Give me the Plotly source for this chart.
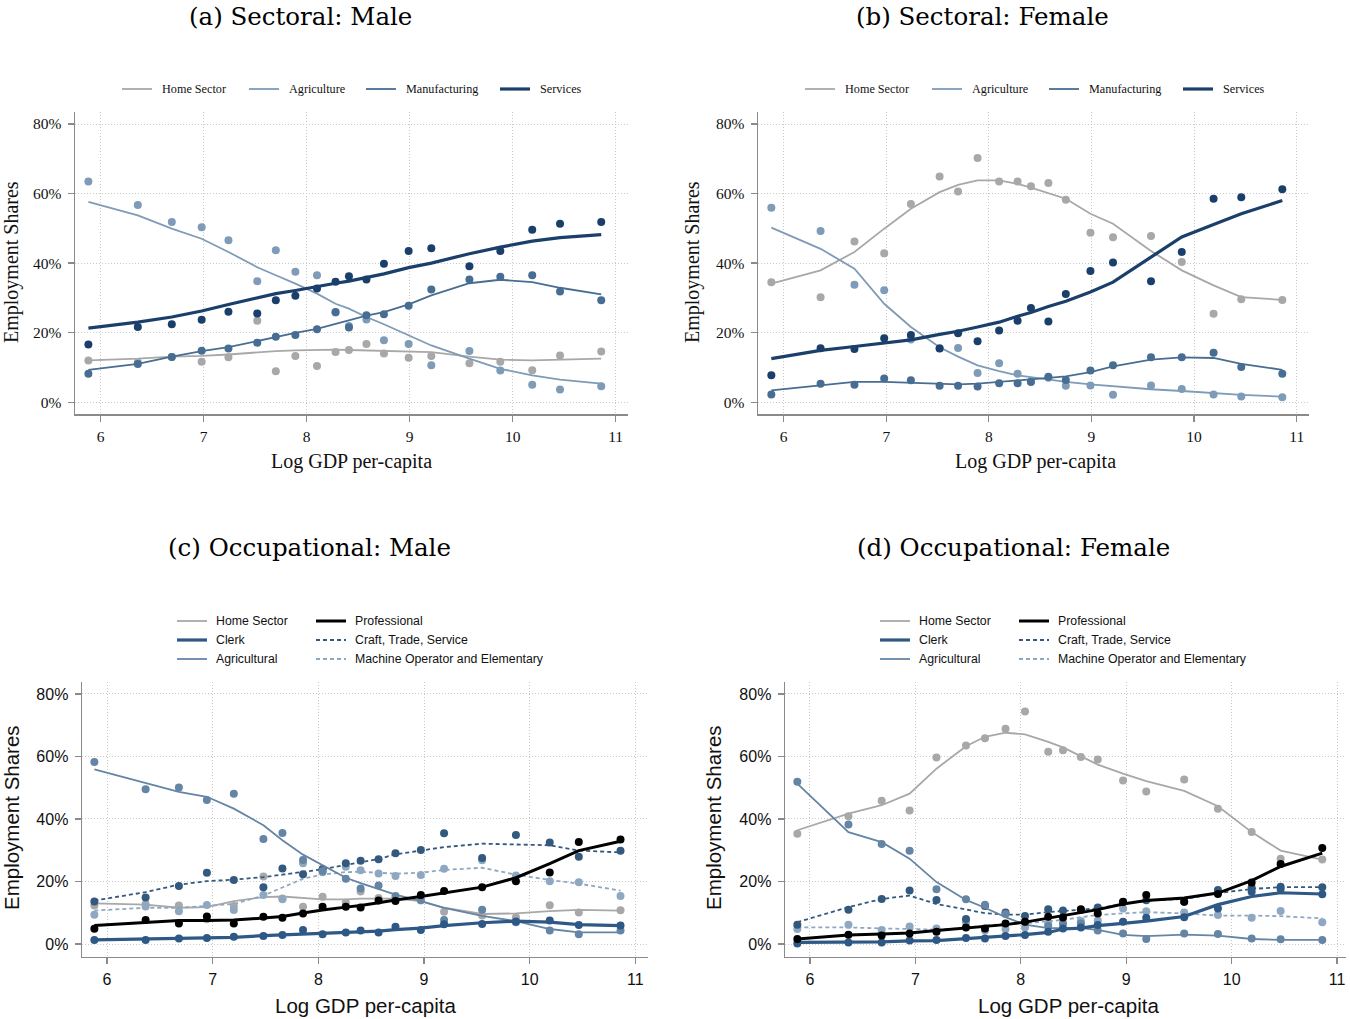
import plotly.graph_objects as go

W, H = 1350, 1019

# ---------------- data ----------------
GDP_SECT = [5.88, 6.36, 6.69, 6.98, 7.24, 7.52, 7.70, 7.89, 8.10, 8.28, 8.41, 8.58, 8.75, 8.99, 9.21, 9.58, 9.88, 10.19, 10.46, 10.86]
GDP_OCC = [5.88, 6.365, 6.68, 6.945, 7.20, 7.48, 7.66, 7.855, 8.04, 8.26, 8.40, 8.57, 8.73, 8.97, 9.19, 9.55, 9.87, 10.19, 10.465, 10.86]

X_TICKS = [6, 7, 8, 9, 10, 11]
X_TICK_LABELS = ["6", "7", "8", "9", "10", "11"]
Y_TICKS = [0, 20, 40, 60, 80]
Y_TICK_LABELS = ["0%", "20%", "40%", "60%", "80%"]

# (a) Sectoral: Male  -- points and smoothed fits
a_home_pts = [12.0, 11.5, 13.0, 11.6, 12.9, 23.4, 8.9, 13.3, 10.4, 14.4, 15.0, 16.7, 14.0, 12.8, 13.3, 11.2, 11.6, 9.2, 13.4, 14.6]
a_agri_pts = [63.5, 56.7, 51.8, 50.3, 46.6, 34.8, 43.7, 37.5, 36.5, 25.8, 21.9, 23.8, 17.8, 16.7, 10.6, 14.7, 9.1, 5.0, 3.6, 4.6]
a_manu_pts = [8.2, 11.0, 13.0, 14.8, 15.4, 17.1, 18.8, 19.3, 21.0, 25.9, 21.5, 25.0, 25.3, 27.7, 32.4, 35.3, 36.1, 36.5, 31.8, 29.3]
a_serv_pts = [16.6, 21.6, 22.4, 23.7, 26.0, 25.5, 29.3, 30.6, 32.7, 34.6, 36.2, 35.3, 39.8, 43.5, 44.3, 39.1, 43.5, 49.6, 51.3, 51.8]
a_home_fit = [12.0, 12.5, 13.1, 13.3, 13.7, 14.4, 14.7, 14.9, 15.1, 15.1, 15.0, 14.9, 14.7, 14.6, 14.4, 13.1, 12.2, 12.0, 12.2, 12.5]
a_agri_fit = [57.6, 53.7, 49.9, 47.0, 43.2, 38.8, 36.5, 34.1, 31.2, 28.3, 26.9, 24.5, 22.4, 19.2, 16.3, 12.5, 9.6, 7.7, 6.5, 5.3]
a_manu_fit = [9.3, 11.0, 13.1, 14.7, 15.8, 17.6, 18.7, 19.9, 21.1, 22.5, 23.5, 24.9, 25.9, 28.1, 30.7, 34.2, 35.2, 34.5, 32.9, 31.0]
a_serv_fit = [21.3, 23.0, 24.5, 26.2, 28.1, 30.0, 31.2, 32.1, 33.3, 34.2, 34.8, 35.8, 36.9, 38.7, 40.0, 42.7, 44.6, 46.3, 47.3, 48.2]

# (b) Sectoral: Female
b_home_pts = [34.5, 30.2, 46.2, 42.8, 57.0, 64.9, 60.6, 70.2, 63.5, 63.5, 62.1, 63.0, 58.2, 48.7, 47.4, 47.8, 40.3, 25.4, 29.6, 29.4]
b_agri_pts = [55.9, 49.2, 33.8, 32.2, 18.0, 15.5, 15.6, 8.4, 11.2, 8.2, 6.0, 7.0, 4.7, 4.8, 2.1, 4.8, 3.8, 2.2, 1.6, 1.4]
b_manu_pts = [2.2, 5.3, 5.0, 6.8, 6.3, 4.7, 4.7, 4.5, 5.4, 5.4, 5.8, 7.3, 6.4, 9.1, 10.6, 12.9, 12.9, 14.2, 10.1, 8.2]
b_serv_pts = [7.7, 15.5, 15.3, 18.4, 19.3, 15.4, 19.8, 17.5, 20.6, 23.4, 27.1, 23.2, 31.1, 37.7, 40.2, 34.8, 43.2, 58.5, 58.9, 61.2]
b_home_fit = [34.1, 37.9, 43.2, 49.9, 55.6, 60.4, 62.5, 63.8, 63.8, 62.8, 61.7, 60.0, 58.5, 54.2, 51.3, 43.5, 37.9, 33.6, 30.2, 29.4]
b_agri_fit = [50.2, 44.1, 38.4, 28.3, 21.6, 15.8, 13.1, 10.6, 8.9, 7.7, 7.2, 6.4, 5.8, 5.1, 4.5, 3.7, 3.2, 2.6, 2.1, 1.6]
b_manu_fit = [3.4, 4.8, 5.8, 5.8, 5.5, 5.1, 5.1, 5.3, 5.8, 6.2, 6.5, 7.0, 7.4, 8.6, 10.3, 12.2, 12.9, 12.7, 11.0, 9.3]
b_serv_fit = [12.5, 14.9, 16.0, 17.0, 17.9, 19.5, 20.4, 21.6, 23.0, 24.7, 25.8, 27.5, 29.0, 31.7, 34.5, 41.7, 47.5, 51.1, 54.2, 58.0]

# (c) Occupational: Male
c_home_pts = [12.3, 12.8, 12.3, 7.9, 12.2, 21.6, 14.6, 11.9, 15.1, 13.2, 16.8, 14.7, 14.5, 13.9, 10.3, 9.1, 8.6, 12.4, 10.1, 10.8]
c_clerk_pts = [1.3, 1.3, 1.8, 1.9, 2.3, 2.6, 2.9, 4.5, 3.1, 3.7, 4.3, 3.7, 5.5, 4.5, 6.3, 6.4, 7.2, 7.5, 6.1, 5.9]
c_agri_pts = [58.2, 49.5, 50.1, 46.1, 48.1, 33.6, 35.5, 26.9, 23.4, 20.9, 17.8, 18.7, 15.4, 14.1, 7.7, 11.0, 7.0, 4.3, 3.1, 4.3]
c_prof_pts = [4.9, 7.7, 6.6, 8.8, 6.6, 8.7, 8.4, 9.8, 11.9, 11.9, 11.7, 13.9, 13.8, 15.7, 17.0, 18.2, 20.1, 22.9, 32.6, 33.4]
c_craft_pts = [13.6, 14.9, 18.6, 22.8, 20.5, 18.2, 24.2, 22.3, 24.0, 25.8, 26.6, 27.1, 29.0, 30.1, 35.4, 27.5, 34.9, 32.5, 27.9, 29.8]
c_mach_pts = [9.4, 12.0, 10.5, 12.5, 10.9, 15.7, 14.3, 25.8, 23.0, 24.7, 23.6, 22.6, 21.8, 22.1, 24.1, 26.8, 21.9, 20.1, 19.8, 15.4]
c_home_fit = [13.0, 12.6, 11.6, 11.8, 13.7, 15.0, 15.2, 14.8, 14.3, 14.3, 14.5, 14.5, 14.5, 13.7, 11.6, 9.6, 9.8, 10.5, 10.9, 10.7]
c_clerk_fit = [1.3, 1.5, 1.7, 1.9, 2.1, 2.7, 2.9, 3.2, 3.4, 3.6, 3.7, 4.1, 4.6, 5.1, 5.9, 6.8, 7.3, 7.0, 6.2, 5.9]
c_agri_fit = [55.9, 51.4, 48.7, 47.1, 43.3, 38.0, 33.2, 28.6, 25.1, 21.2, 19.5, 17.6, 15.8, 13.7, 11.6, 9.0, 7.3, 4.8, 3.7, 3.7]
c_prof_fit = [5.9, 7.0, 7.5, 7.5, 7.7, 8.3, 8.8, 9.9, 10.9, 11.8, 12.3, 13.2, 14.1, 15.2, 16.3, 18.2, 21.2, 25.7, 29.9, 32.9]
c_craft_fit = [13.9, 16.6, 19.0, 20.1, 20.6, 21.4, 22.2, 23.0, 23.9, 25.3, 26.2, 27.2, 28.7, 29.9, 31.0, 32.1, 31.9, 31.6, 29.9, 29.3]
c_mach_fit = [10.7, 11.6, 11.6, 12.2, 12.8, 15.5, 18.2, 20.9, 22.2, 23.0, 23.1, 22.7, 22.5, 22.8, 23.7, 24.4, 22.2, 20.5, 19.3, 17.1]

# (d) Occupational: Female
d_home_pts = [35.3, 40.9, 45.8, 42.7, 59.7, 63.5, 65.8, 68.9, 74.4, 61.5, 62.0, 59.8, 59.0, 52.3, 48.8, 52.6, 43.3, 35.8, 27.3, 27.0]
d_clerk_pts = [0.2, 0.5, 0.5, 1.1, 1.3, 1.9, 1.8, 2.6, 2.9, 3.9, 5.0, 5.3, 6.1, 7.1, 8.4, 8.6, 11.4, 16.7, 17.6, 15.9]
d_agri_pts = [51.9, 38.2, 32.0, 29.8, 17.5, 14.3, 12.6, 9.6, 7.0, 5.8, 6.6, 6.6, 4.3, 3.4, 1.6, 3.4, 3.2, 1.8, 1.5, 1.3]
d_prof_pts = [1.6, 3.0, 2.7, 3.4, 3.9, 5.3, 5.0, 6.6, 7.1, 8.7, 8.5, 11.1, 9.8, 13.5, 15.7, 13.5, 16.0, 19.7, 25.6, 30.7]
d_craft_pts = [6.2, 11.0, 14.4, 17.1, 14.1, 8.0, 12.2, 10.1, 9.0, 11.1, 10.7, 10.9, 11.7, 13.4, 14.0, 13.5, 17.3, 18.1, 18.3, 18.2]
d_mach_pts = [4.8, 6.2, 4.5, 5.6, 5.0, 7.0, 4.3, 4.8, 5.3, 6.6, 6.5, 7.4, 7.5, 11.4, 10.5, 10.1, 9.3, 8.4, 10.6, 7.0]
d_home_fit = [36.4, 41.7, 44.4, 48.1, 56.1, 63.3, 66.3, 67.6, 67.1, 64.7, 62.9, 60.1, 57.4, 54.5, 52.1, 49.0, 44.1, 35.8, 29.9, 27.0]
d_clerk_fit = [0.5, 0.5, 0.7, 1.0, 1.1, 1.7, 2.1, 2.5, 3.0, 3.7, 4.8, 5.1, 5.9, 6.6, 7.3, 8.8, 12.6, 15.2, 16.4, 16.0]
d_agri_fit = [51.3, 35.8, 32.6, 27.3, 19.8, 14.1, 11.6, 8.6, 6.2, 5.1, 5.1, 5.1, 4.5, 2.9, 2.5, 3.0, 2.7, 1.6, 1.3, 1.3]
d_prof_fit = [1.6, 2.9, 3.2, 3.5, 4.3, 5.1, 5.6, 6.2, 7.0, 8.3, 9.1, 9.9, 11.0, 12.8, 13.9, 14.7, 16.3, 20.3, 24.8, 29.1]
d_craft_fit = [7.0, 11.8, 14.4, 15.5, 12.8, 10.9, 9.9, 9.4, 9.4, 10.2, 10.5, 10.9, 11.4, 12.8, 13.9, 14.4, 16.3, 17.6, 18.2, 18.2]
d_mach_fit = [5.3, 5.3, 5.0, 4.8, 4.6, 5.1, 5.9, 6.4, 6.6, 7.3, 7.7, 8.6, 9.3, 9.8, 10.2, 9.8, 9.1, 9.1, 8.9, 8.2]

SECT_NAMES = ["Home Sector", "Agriculture", "Manufacturing", "Services"]
OCC_NAMES_COL1 = ["Home Sector", "Clerk", "Agricultural"]
OCC_NAMES_COL2 = ["Professional", "Craft, Trade, Service", "Machine Operator and Elementary"]
TITLES = ["(a) Sectoral: Male", "(b) Sectoral: Female", "(c) Occupational: Male", "(d) Occupational: Female"]

# ---------------- styles ----------------
C_HOME = "#a8a8a8"
C_AGRI = "#7e9bb7"
C_MANU = "#486d93"
C_SERV = "#1b3f6b"
C_CLERK = "#2e5886"
C_OAGRI = "#6585a5"
C_CRAFT = "#33597f"
C_MACH = "#8ea8c2"
C_PROF = "#000000"
AX = "#8a8a8a"
GRID = "#c9c9c9"
GRID_DASH = "1px,2px"
SERIF = "Liberation Serif"
TSERIF = "DejaVu Serif"
SANS = "Liberation Sans"


def px(x):
    return x / W


def py(y):
    return 1 - y / H


fig = go.Figure()


def add_series(ax, xs, pts, fit, color, width, dash="solid", msize=8):
    xa, ya = ("x", "y") if ax == 1 else ("x%d" % ax, "y%d" % ax)
    fig.add_trace(go.Scatter(x=xs, y=pts, mode="markers", xaxis=xa, yaxis=ya,
                             marker=dict(color=color, size=msize, line=dict(width=0)),
                             showlegend=False, hoverinfo="skip"))
    fig.add_trace(go.Scatter(x=xs, y=fit, mode="lines", xaxis=xa, yaxis=ya,
                             line=dict(color=color, width=width, dash=dash, shape="linear"),
                             showlegend=False, hoverinfo="skip"))


# panel a
add_series(1, GDP_SECT, a_home_pts, a_home_fit, C_HOME, 1.8)
add_series(1, GDP_SECT, a_agri_pts, a_agri_fit, C_AGRI, 1.8)
add_series(1, GDP_SECT, a_manu_pts, a_manu_fit, C_MANU, 1.8)
add_series(1, GDP_SECT, a_serv_pts, a_serv_fit, C_SERV, 3.2)
# panel b
add_series(2, GDP_SECT, b_home_pts, b_home_fit, C_HOME, 1.8)
add_series(2, GDP_SECT, b_agri_pts, b_agri_fit, C_AGRI, 1.8)
add_series(2, GDP_SECT, b_manu_pts, b_manu_fit, C_MANU, 1.8)
add_series(2, GDP_SECT, b_serv_pts, b_serv_fit, C_SERV, 3.2)
# panel c
DASH = "4px,3px"
add_series(3, GDP_OCC, c_home_pts, c_home_fit, C_HOME, 1.8)
add_series(3, GDP_OCC, c_mach_pts, c_mach_fit, C_MACH, 1.8, DASH)
add_series(3, GDP_OCC, c_craft_pts, c_craft_fit, C_CRAFT, 1.8, DASH)
add_series(3, GDP_OCC, c_agri_pts, c_agri_fit, C_OAGRI, 1.8)
add_series(3, GDP_OCC, c_clerk_pts, c_clerk_fit, C_CLERK, 3.2)
add_series(3, GDP_OCC, c_prof_pts, c_prof_fit, C_PROF, 3.0)
# panel d
add_series(4, GDP_OCC, d_home_pts, d_home_fit, C_HOME, 1.8)
add_series(4, GDP_OCC, d_mach_pts, d_mach_fit, C_MACH, 1.8, DASH)
add_series(4, GDP_OCC, d_craft_pts, d_craft_fit, C_CRAFT, 1.8, DASH)
add_series(4, GDP_OCC, d_agri_pts, d_agri_fit, C_OAGRI, 1.8)
add_series(4, GDP_OCC, d_clerk_pts, d_clerk_fit, C_CLERK, 3.2)
add_series(4, GDP_OCC, d_prof_pts, d_prof_fit, C_PROF, 3.0)


def xaxis(dom_px, rng, font, anchor):
    return dict(domain=[px(dom_px[0]), px(dom_px[1])], range=rng, anchor=anchor,
                tickvals=X_TICKS, ticktext=X_TICK_LABELS, tickfont=font,
                showline=True, linecolor=AX, linewidth=1.4, ticks="outside", ticklen=6,
                tickcolor=AX, tickwidth=1.2, showgrid=True, gridcolor=GRID, griddash=GRID_DASH,
                gridwidth=1, zeroline=False, fixedrange=True, ticklabelstandoff=2)


def yaxis(dom_px, rng, font, anchor):
    return dict(domain=[py(dom_px[1]), py(dom_px[0])], range=rng, anchor=anchor,
                tickvals=Y_TICKS, ticktext=Y_TICK_LABELS, tickfont=font,
                showline=True, linecolor=AX, linewidth=1.4, ticks="outside", ticklen=6,
                tickcolor=AX, tickwidth=1.2, showgrid=True, gridcolor=GRID, griddash=GRID_DASH,
                gridwidth=1, zeroline=False, fixedrange=True, ticklabelstandoff=3)


f_sect = dict(family=SERIF, size=15.5, color="#111111")
f_occ = dict(family=SANS, size=16, color="#111111")
XR_S = [5.75, 11.12]
YR_S = [-3.5, 83.6]
XR_O = [5.763, 11.12]
YR_O = [-4.06, 83.96]

fig.update_layout(
    width=W, height=H, autosize=False,
    margin=dict(l=0, r=0, t=0, b=0),
    paper_bgcolor="white", plot_bgcolor="white",
    showlegend=False,
    xaxis=xaxis((75, 628), XR_S, f_sect, "y"),
    yaxis=yaxis((111.5, 414.3), YR_S, f_sect, "x"),
    xaxis2=xaxis((758, 1309), XR_S, f_sect, "y2"),
    yaxis2=yaxis((111.5, 414.3), YR_S, f_sect, "x2"),
    xaxis3=xaxis((82, 648), XR_O, f_occ, "y3"),
    yaxis3=yaxis((681.6, 956.7), YR_O, f_occ, "x3"),
    xaxis4=xaxis((785, 1346), [5.763, 11.085], f_occ, "y4"),
    yaxis4=yaxis((681.6, 956.7), YR_O, f_occ, "x4"),
)

ann = []
shapes = []


def text(x, y, s, font, xanchor="center", yanchor="middle", angle=0):
    ann.append(dict(x=px(x), y=py(y), xref="paper", yref="paper", text=s, showarrow=False,
                    xanchor=xanchor, yanchor=yanchor, font=font, textangle=angle))


# titles
tfont = dict(family=TSERIF, size=24.5, color="#000000")
text(300, 16, TITLES[0], tfont)
text(983, 16, TITLES[1], tfont)
text(309, 547, TITLES[2], tfont)
text(1013, 547, TITLES[3], tfont)

# axis titles
ats = dict(family=SERIF, size=20, color="#111111")
ato = dict(family=SANS, size=20.5, color="#111111")
text(352, 462, "Log GDP per-capita", ats)
text(1035, 462, "Log GDP per-capita", ats)
text(365, 1005, "Log GDP per-capita", ato)
text(1068, 1005, "Log GDP per-capita", ato)
text(11, 262, "Employment Shares", ats, angle=-90)
text(692, 262, "Employment Shares", ats, angle=-90)
text(11, 818, "Employment Shares", ato, angle=-90)
text(713, 818, "Employment Shares", ato, angle=-90)


def leg_line(x0, y, color, width, dash="solid"):
    shapes.append(dict(type="line", xref="paper", yref="paper", x0=px(x0), x1=px(x0 + 30),
                       y0=py(y), y1=py(y), line=dict(color=color, width=width, dash=dash)))


# legends (a), (b)
lfs = dict(family=SERIF, size=12.2, color="#111111")
sect_cols = [C_HOME, C_AGRI, C_MANU, C_SERV]
sect_w = [1.8, 1.8, 1.8, 3.2]
for base in (0, 683):
    starts = [122, 249, 366, 500]
    for i, nm in enumerate(SECT_NAMES):
        leg_line(starts[i] + base, 89, sect_cols[i], sect_w[i])
        text(starts[i] + base + 38, 89, nm, lfs, xanchor="left")

# legends (c), (d)
lfo = dict(family=SANS, size=12.3, color="#111111")
c1 = [(C_HOME, 1.8, "solid"), (C_CLERK, 3.2, "solid"), (C_OAGRI, 1.8, "solid")]
c2 = [(C_PROF, 3.0, "solid"), (C_CRAFT, 1.8, "4px,3px"), (C_MACH, 1.8, "4px,3px")]
rows = [621, 640, 659]
for base in (0, 703):
    for i in range(3):
        col, w, d = c1[i]
        leg_line(177 + base, rows[i], col, w, d)
        text(214 + base, rows[i], OCC_NAMES_COL1[i], lfo, xanchor="left")
        col, w, d = c2[i]
        leg_line(316 + base, rows[i], col, w, d)
        text(353 + base, rows[i], OCC_NAMES_COL2[i], lfo, xanchor="left")

fig.update_layout(annotations=ann, shapes=shapes)

# remove the default 8px page margin so the figure fills the window exactly
fig.write_html("out.html",
               config=dict(displayModeBar=False, staticPlot=True),
               post_script="document.body.style.margin='0';document.body.style.overflow='hidden';")
